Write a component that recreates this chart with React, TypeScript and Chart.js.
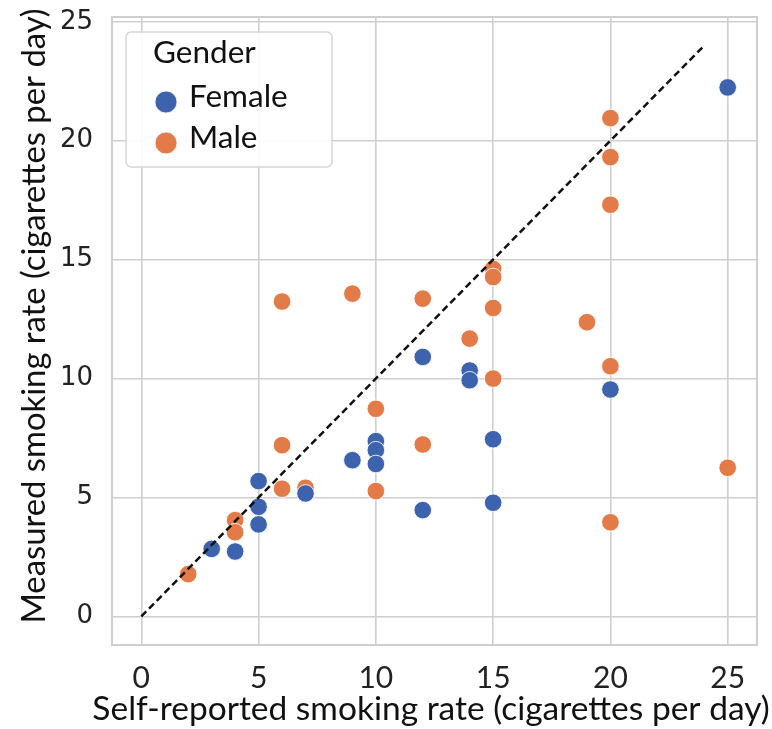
import React, { useEffect, useRef } from "react";
import { Chart, registerables } from "chart.js";

Chart.register(...registerables);

// ---- data ----
const femaleX = [3, 4, 5, 5, 5, 7, 9, 10, 10, 10, 12, 12, 14, 14, 15, 15, 20, 25];
const femaleY = [2.84, 2.73, 5.69, 4.61, 3.87, 5.17, 6.57, 7.37, 6.99, 6.41, 10.91, 4.47, 10.34, 9.93, 7.45, 4.78, 9.54, 22.24];
const maleX = [2, 4, 4, 6, 6, 6, 7, 9, 10, 10, 12, 12, 14, 15, 15, 15, 15, 19, 20, 20, 20, 20, 20, 25];
const maleY = [1.78, 4.05, 3.54, 13.24, 7.2, 5.37, 5.41, 13.57, 8.73, 5.27, 13.36, 7.23, 11.68, 14.61, 14.27, 12.97, 10.0, 12.37, 20.95, 19.31, 17.31, 10.52, 3.96, 6.25];
const identityX = [0, 24];
const identityY = [0, 24];
const xTickValues = [0, 5, 10, 15, 20, 25];
const yTickValues = [0, 5, 10, 15, 20, 25];
const legendTitle = "Gender";
const seriesNames = ["Female", "Male"];
const xTitle = "Self-reported smoking rate (cigarettes per day)";
const yTitle = "Measured smoking rate (cigarettes per day)";

const BLUE = "#3e63ae";
const ORANGE = "#e27b47";
const GRID = "#cfcfcf";
const FONT = "Lato, 'Open Sans', sans-serif";

const zip = (xs: number[], ys: number[]) => xs.map((x, i) => ({ x, y: ys[i] }));

const decorPlugin = {
  id: "decor",
  beforeDatasetsDraw(chart: any) {
    const { ctx, chartArea: a } = chart;
    ctx.save();
    ctx.strokeStyle = GRID;
    ctx.lineWidth = 2;
    ctx.strokeRect(a.left, a.top, a.right - a.left, a.bottom - a.top);
    ctx.restore();
  },
  afterDraw(chart: any) {
    const { ctx, chartArea: a } = chart;
    ctx.save();
    // legend box
    const bx = a.left + 14, by = a.top + 15, bw = 206, bh = 135, r = 5;
    ctx.beginPath();
    ctx.moveTo(bx + r, by);
    ctx.arcTo(bx + bw, by, bx + bw, by + bh, r);
    ctx.arcTo(bx + bw, by + bh, bx, by + bh, r);
    ctx.arcTo(bx, by + bh, bx, by, r);
    ctx.arcTo(bx, by, bx + bw, by, r);
    ctx.closePath();
    ctx.fillStyle = "rgba(255,255,255,0.92)";
    ctx.fill();
    ctx.strokeStyle = "#d6d6d6";
    ctx.lineWidth = 1.5;
    ctx.stroke();

    ctx.fillStyle = "#111";
    ctx.textAlign = "left";
    ctx.textBaseline = "alphabetic";
    ctx.font = `31.5px ${FONT}`;
    ctx.fillText(legendTitle, bx + 27, by + 31);
    const colors = [BLUE, ORANGE];
    seriesNames.forEach((name, i) => {
      const cy = by + 70 + i * 41;
      ctx.beginPath();
      ctx.arc(bx + 40, cy, 11, 0, Math.PI * 2);
      ctx.fillStyle = colors[i];
      ctx.fill();
      ctx.strokeStyle = "rgba(255,255,255,0.8)";
      ctx.lineWidth = 1;
      ctx.stroke();
      ctx.fillStyle = "#111";
      ctx.fillText(name, bx + 63, cy + 5);
    });

    // axis titles
    ctx.fillStyle = "#111";
    ctx.font = `33.5px ${FONT}`;
    ctx.textAlign = "center";
    ctx.textBaseline = "alphabetic";
    ctx.fillText(xTitle, 431, 720);

    ctx.font = `32.8px ${FONT}`;
    ctx.translate(45, 316);
    ctx.rotate(-Math.PI / 2);
    ctx.fillText(yTitle, 0, 0);
    ctx.restore();
  },
};

export default function App() {
  const ref = useRef<HTMLCanvasElement | null>(null);
  useEffect(() => {
    if (!ref.current) return;
    const chart = new Chart(ref.current, {
      type: "scatter",
      data: {
        datasets: [
          {
            type: "line",
            label: "identity",
            data: zip(identityX, identityY),
            borderColor: "#111",
            borderWidth: 2.5,
            borderDash: [7, 4],
            pointRadius: 0,
            showLine: true,
            fill: false,
            order: 0,
          } as any,
          {
            label: seriesNames[0],
            data: zip(femaleX, femaleY),
            backgroundColor: BLUE,
            borderColor: "rgba(255,255,255,0.85)",
            borderWidth: 1,
            pointRadius: 8.8,
            order: 1,
          },
          {
            label: seriesNames[1],
            data: zip(maleX, maleY),
            backgroundColor: ORANGE,
            borderColor: "rgba(255,255,255,0.85)",
            borderWidth: 1,
            pointRadius: 8.8,
            order: 2,
          },
        ],
      },
      options: {
        animation: false,
        responsive: false,
        maintainAspectRatio: false,
        layout: { padding: { top: 17, right: 15, left: 0, bottom: 0 } },
        plugins: { legend: { display: false }, tooltip: { enabled: false } },
        scales: {
          x: {
            type: "linear",
            min: -1.25,
            max: 26.25,
            afterFit: (s: any) => { s.height = 84; s.paddingLeft = 0; s.paddingRight = 0; },
            afterBuildTicks: (s: any) => { s.ticks = xTickValues.map((v) => ({ value: v })); },
            ticks: { font: { family: FONT, size: 30 }, color: "#222", padding: 15, includeBounds: false, maxRotation: 0 },
            grid: { color: GRID, lineWidth: 1.6, drawTicks: false },
            border: { display: false },
          },
          y: {
            type: "linear",
            min: -1.2,
            max: 25.2,
            afterFit: (s: any) => { s.width = 112; s.paddingTop = 0; s.paddingBottom = 0; },
            afterBuildTicks: (s: any) => { s.ticks = yTickValues.map((v) => ({ value: v })); },
            ticks: { font: { family: "'DejaVu Sans', sans-serif", size: 26 }, color: "#222", padding: 19, includeBounds: false },
            grid: { color: GRID, lineWidth: 1.6, drawTicks: false },
            border: { display: false },
          },
        },
      },
      plugins: [decorPlugin],
    });
    return () => chart.destroy();
  }, []);
  return (
    <div style={{ position: "fixed", left: 0, top: 0, width: 772, height: 729, background: "#fff" }}>
      <canvas ref={ref} width={772} height={729} style={{ display: "block" }} />
    </div>
  );
}
